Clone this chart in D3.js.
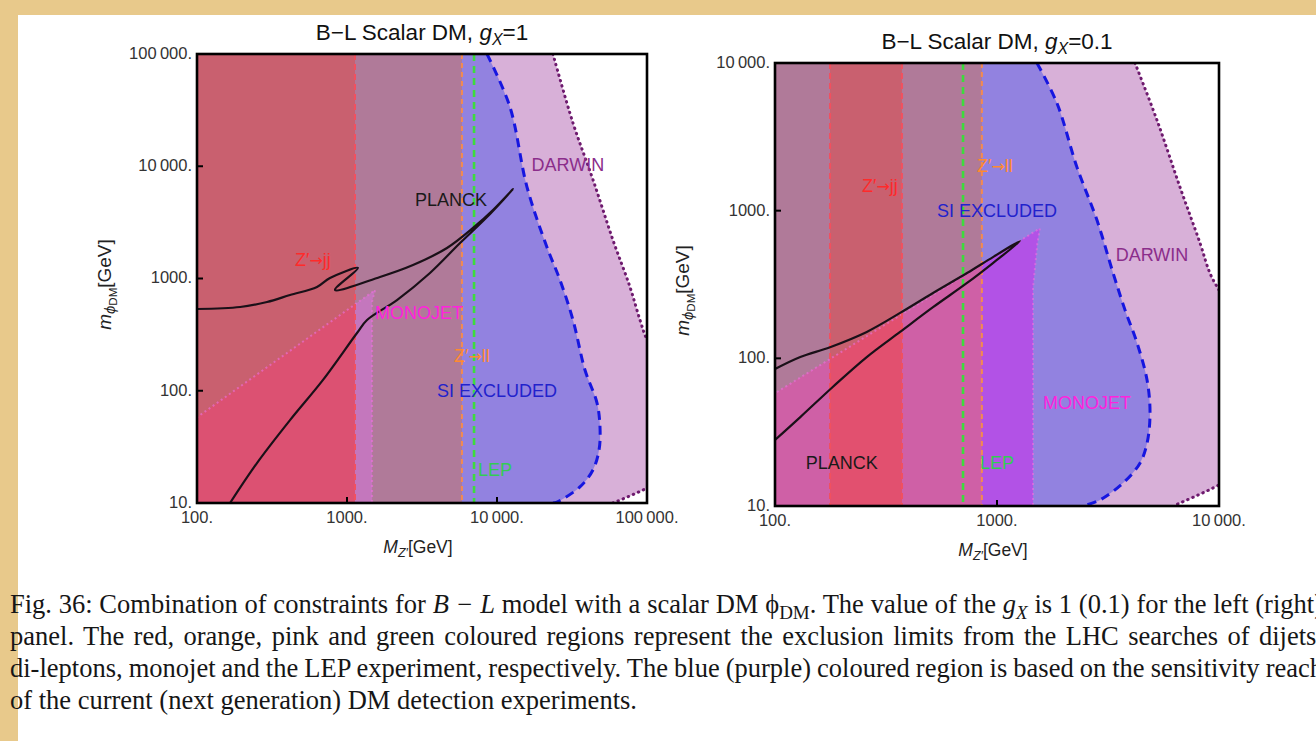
<!DOCTYPE html>
<html>
<head>
<meta charset="utf-8">
<title>B-L Scalar DM constraints</title>
<style>
  body { margin: 0; background: #fff; }
  svg { display: block; }
  text { font-family: "Liberation Sans", Arial, sans-serif; }
  .caption { font-family: "Liberation Serif", "Times New Roman", serif; font-size: 26.5px; fill: #161616; }
  .arrow { font-family: "DejaVu Sans", sans-serif; }
</style>
</head>
<body>
<svg id="fig" width="1316" height="741"></svg>
<script src="https://cdnjs.cloudflare.com/ajax/libs/d3/7.8.5/d3.min.js"></script>
<script>
// ---------- left panel, g_X = 1 ----------
const leftXTicks = [100, 1000, 10000, 100000];
const leftXLabels = ["100.", "1000.", "10\u2009000.", "100\u2009000."];
const leftYTicks = [10, 100, 1000, 10000, 100000];
const leftYLabels = ["10.", "100.", "1000.", "10\u2009000.", "100\u2009000."];
const leftDarwin = [[23600,100000],[32100,24300],[43700,7550],[59300,2200],[77000,840],[89800,427],[100000,283],
                    [150000,100],[160000,30],[130000,17],[100000,13.6],[59300,10]];
const leftSI = [[8580,100000],[12200,33700],[15850,6530],[21500,1910],[26300,970],[32100,427],[38600,153],
                [46400,78],[48600,47.5],[47900,29.7],[43600,19.7],[35700,13.9],[25100,10.2],[23600,10]];
const leftDilepton = [100, 5840];
const leftDijet = [100, 1130];
const leftLEP = 7030;
const leftMonojet = [[100,10],[100,58],[1540,790],[1470,620],[1470,10]];
const leftMonojetBands = [[100,1130,"#dc5172"],[1130,1600,"#c477bd"]];
const leftPlanck = [[100,535],[194,557],[293,618],[417,713],[631,840],[770,1010],[1184,1240],[832,790],
                    [1660,1031],[2754,1318],[4640,1870],[6920,2820],[9400,4075],[12800,6270],
                    [8580,3530],[5670,2070],[3575,1120],[2154,643],[1360,427],[1166,327],[692,125],
                    [417,54.8],[251,22.7],[166,10]];
const leftText = [
  {t:"DARWIN", x:29700, y:10260, c:"#8b2d8b"},
  {t:"PLANCK", x:4935, y:5000, c:"#1a1a1a"},
  {t:"Z\u2032\u2192jj", x:593, y:1462, c:"#ff2a2a"},
  {t:"MONOJET", x:3020, y:493, c:"#ff22dd"},
  {t:"Z\u2032\u2192ll", x:6810, y:204, c:"#ff8a30"},
  {t:"SI EXCLUDED", x:10000, y:99.5, c:"#2222cc"},
  {t:"LEP", x:9700, y:19.7, c:"#33cc55"}
];

// ---------- right panel, g_X = 0.1 ----------
const rightXTicks = [100, 1000, 10000];
const rightXLabels = ["100.", "1000.", "10\u2009000."];
const rightYTicks = [10, 100, 1000, 10000];
const rightYLabels = ["10.", "100.", "1000.", "10\u2009000."];
const rightDarwin = [[4185,10000],[5255,4105],[6670,1445],[8210,604],[9100,378],[10000,290],[13000,150],
                     [14500,40],[13000,18],[10000,13.9],[6210,10]];
const rightSI = [[1514,10000],[1862,5350],[2291,1972],[2820,863],[3334,378],[3775,212],[4275,127],[4744,71],
                 [4890,42.6],[4744,26.7],[4405,19.5],[3695,14.3],[2910,11],[2440,10]];
const rightDilepton = [100, 855];
const rightDijet = [177, 373];
const rightLEP = 703;
const rightMonojet = [[100,10],[100,58],[1560,760],[1520,600],[1453,300],[1453,10]];
const rightMonojetBands = [[100,177,"#cf60a6"],[177,373,"#e2506f"],[373,855,"#cf60a6"],[855,2000,"#b252e6"]];
const rightPlanck = [[100,84.6],[130,102],[177,119],[259,151],[366,203],[515,277],[733,378],[959,485],[1270,623],
                     [959,442],[733,324],[515,222],[366,151],[259,102],[182,64],[130,40],[100,28]];
const rightText = [
  {t:"Z\u2032\u2192jj", x:297, y:1468, c:"#ff2a2a"},
  {t:"Z\u2032\u2192ll", x:979, y:2005, c:"#ff8a30"},
  {t:"SI EXCLUDED", x:1000, y:994, c:"#2222cc"},
  {t:"DARWIN", x:4990, y:500, c:"#8b2d8b"},
  {t:"MONOJET", x:2543, y:49.8, c:"#ff22dd"},
  {t:"PLANCK", x:200, y:19.5, c:"#1a1a1a"},
  {t:"LEP", x:1000, y:19.5, c:"#33cc55"}
];

// ---------- caption ----------
const captionLines = [
  [["Fig. 36: Combination of constraints for ",""],["B \u2212 L","i"],[" model with a scalar DM ",""],["\u03d5",""],["DM","sub"],
   [". The value of the ",""],["g","i"],["X","isub"],[" is 1 (0.1) for the left (right)",""]],
  [["panel. The red, orange, pink and green coloured regions represent the exclusion limits from the LHC searches of dijets,",""]],
  [["di-leptons, monojet and the LEP experiment, respectively. The blue (purple) coloured region is based on the sensitivity reach",""]],
  [["of the current (next generation) DM detection experiments.",""]]
];

const panels = [
  {gx:"1", xDomain:[100,100000], yDomain:[10,100000], box:{left:197,right:647,top:54,bottom:503}, titleY:40,
   xTicks:leftXTicks, xLabels:leftXLabels, yTicks:leftYTicks, yLabels:leftYLabels,
   darwin:leftDarwin, si:leftSI, dilepton:leftDilepton, dijet:leftDijet, lep:leftLEP,
   monojet:leftMonojet, bands:leftMonojetBands, planck:leftPlanck, labels:leftText},
  {gx:"0.1", xDomain:[100,10000], yDomain:[10,10000], box:{left:775,right:1219,top:63,bottom:506}, titleY:49,
   xTicks:rightXTicks, xLabels:rightXLabels, yTicks:rightYTicks, yLabels:rightYLabels,
   darwin:rightDarwin, si:rightSI, dilepton:rightDilepton, dijet:rightDijet, lep:rightLEP,
   monojet:rightMonojet, bands:rightMonojetBands, planck:rightPlanck, labels:rightText}
];

const svg = d3.select("#fig");
const defs = svg.append("defs");
svg.append("rect").attr("width", 1316).attr("height", 741).attr("fill", "#fff");
// tan page edge
svg.append("rect").attr("width", 1316).attr("height", 15).attr("fill", "#e8c98b");
svg.append("rect").attr("width", 18).attr("height", 741).attr("fill", "#e8c98b");

function drawPanel(p, i) {
  const b = p.box;
  const x = d3.scaleLog().domain(p.xDomain).range([b.left, b.right]);
  const y = d3.scaleLog().domain(p.yDomain).range([b.bottom, b.top]);
  const [x0, x1] = p.xDomain, [y0, y1] = p.yDomain;
  const curve = d3.line().x(d => x(d[0])).y(d => y(d[1])).curve(d3.curveCatmullRom.alpha(0.5));
  const straight = d3.line().x(d => x(d[0])).y(d => y(d[1]));

  const clipId = "plotclip" + i;
  defs.append("clipPath").attr("id", clipId).append("rect")
    .attr("x", b.left).attr("y", b.top).attr("width", b.right - b.left).attr("height", b.bottom - b.top);
  const plot = svg.append("g").attr("clip-path", `url(#${clipId})`);

  // area to the left of a boundary, closed via points outside the frame
  function leftOf(pts) {
    const first = pts[0], last = pts[pts.length - 1];
    return curve(pts) + straight([[last[0], y0/3],[x0/3, y0/3],[x0/3, y1*3],[first[0], y1*3]]).replace("M", "L") + "Z";
  }

  plot.append("path").attr("d", leftOf(p.darwin)).attr("fill", "#d8b0d8");
  plot.append("path").attr("d", leftOf(p.si)).attr("fill", "#9282e0");
  plot.append("rect").attr("x", x(p.dilepton[0])).attr("width", x(p.dilepton[1]) - x(p.dilepton[0]))
    .attr("y", b.top).attr("height", b.bottom - b.top).attr("fill", "#b07a99");
  plot.append("rect").attr("x", x(p.dijet[0])).attr("width", x(p.dijet[1]) - x(p.dijet[0]))
    .attr("y", b.top).attr("height", b.bottom - b.top).attr("fill", "#c9606f");

  p.bands.forEach((band, k) => {
    const id = `mono${i}_${k}`;
    defs.append("clipPath").attr("id", id).append("rect")
      .attr("x", x(band[0])).attr("width", x(band[1]) - x(band[0])).attr("y", b.top).attr("height", b.bottom - b.top);
    plot.append("path").attr("clip-path", `url(#${id})`).attr("d", straight(p.monojet) + "Z").attr("fill", band[2]);
  });
  plot.append("path").attr("d", straight(p.monojet) + "Z").attr("fill", "none")
    .attr("stroke", "#f070e0").attr("stroke-width", 2).attr("stroke-dasharray", "2,3").attr("opacity", 0.6);

  // vertical limits
  const vline = (v, color, dash, w) => plot.append("line").attr("x1", x(v)).attr("x2", x(v))
    .attr("y1", b.top).attr("y2", b.bottom).attr("stroke", color).attr("stroke-width", w).attr("stroke-dasharray", dash);
  p.dijet.filter(v => v > x0).forEach(v => vline(v, "#f2505e", "6,4", 2));
  vline(p.dilepton[1], "#f28a52", "5,4", 2);
  vline(p.lep, "#3ddc3d", "7,5", 2.6);

  plot.append("path").attr("d", curve(p.si)).attr("fill", "none")
    .attr("stroke", "#1616e0").attr("stroke-width", 3).attr("stroke-dasharray", "9,6");
  plot.append("path").attr("d", curve(p.darwin)).attr("fill", "none")
    .attr("stroke", "#6e1a6e").attr("stroke-width", 3).attr("stroke-linecap", "round").attr("stroke-dasharray", "0.5,5");
  plot.append("path").attr("d", curve(p.planck)).attr("fill", "none")
    .attr("stroke", "#1a1018").attr("stroke-width", 2.2).attr("stroke-linejoin", "round");

  const labs = plot.selectAll(".lab").data(p.labels).join("text")
    .attr("x", d => x(d.x)).attr("y", d => y(d.y)).attr("dy", "0.35em")
    .attr("text-anchor", "middle").attr("font-size", 18).attr("fill", d => d.c);
  labs.each(function(d) {
    const parts = d.t.split("\u2192");
    const el = d3.select(this);
    el.append("tspan").text(parts[0]);
    if (parts.length > 1) {
      el.append("tspan").attr("class", "arrow").attr("font-size", 16).text("\u2192");
      el.append("tspan").text(parts[1]);
    }
  });

  // frame and ticks
  svg.append("g").selectAll("line").data(p.yTicks).join("line")
    .attr("x1", b.left).attr("x2", b.left + 6).attr("y1", d => y(d)).attr("y2", d => y(d))
    .attr("stroke", "#000").attr("stroke-width", 2);
  svg.append("g").selectAll("line").data(p.xTicks).join("line")
    .attr("y1", b.bottom).attr("y2", b.bottom - 6).attr("x1", d => x(d)).attr("x2", d => x(d))
    .attr("stroke", "#000").attr("stroke-width", 2);
  svg.append("rect").attr("x", b.left).attr("y", b.top).attr("width", b.right - b.left).attr("height", b.bottom - b.top)
    .attr("fill", "none").attr("stroke", "#000").attr("stroke-width", 2.6);

  svg.append("g").selectAll("text").data(p.yTicks).join("text")
    .attr("x", b.left - 5).attr("y", d => y(d)).attr("dy", "0.3em").attr("text-anchor", "end")
    .attr("font-size", 16.5).attr("fill", "#333").text((d, k) => p.yLabels[k]);
  svg.append("g").selectAll("text").data(p.xTicks).join("text")
    .attr("x", d => x(d)).attr("y", b.bottom + 20).attr("text-anchor", "middle")
    .attr("font-size", 16.5).attr("fill", "#333").text((d, k) => p.xLabels[k]);

  // title
  const cx = (b.left + b.right) / 2;
  const title = svg.append("text").attr("x", cx).attr("y", p.titleY).attr("text-anchor", "middle")
    .attr("font-size", 22.5).attr("fill", "#111");
  title.append("tspan").text("B\u2212L Scalar DM, ");
  title.append("tspan").attr("font-style", "italic").text("g");
  title.append("tspan").attr("font-style", "italic").attr("font-size", 16).attr("dy", 5).text("X");
  title.append("tspan").attr("dy", -5).text("=" + p.gx);

  // axis labels
  const xl = svg.append("text").attr("x", cx - 4).attr("y", b.bottom + 50).attr("text-anchor", "middle")
    .attr("font-size", 17.5).attr("fill", "#222");
  xl.append("tspan").attr("font-style", "italic").text("M");
  xl.append("tspan").attr("font-style", "italic").attr("font-size", 12.5).attr("dy", 4).text("Z\u2032");
  xl.append("tspan").attr("dy", -4).text("[GeV]");

  const yl = svg.append("text").attr("transform", `translate(${b.left - 86},${(b.top + b.bottom) / 2 + 6}) rotate(-90)`)
    .attr("text-anchor", "middle").attr("font-size", 19).attr("fill", "#222");
  yl.append("tspan").attr("font-style", "italic").text("m");
  yl.append("tspan").attr("font-style", "italic").attr("font-size", 15).attr("dy", 4).text("\u03d5");
  yl.append("tspan").attr("font-size", 11.5).attr("dy", 2).text("DM");
  yl.append("tspan").attr("dy", -6).text("[GeV]");
}

panels.forEach(drawPanel);

// caption, justified lines
captionLines.forEach((segs, li) => {
  const t = svg.append("text").attr("class", "caption").attr("x", 10).attr("y", 613 + li * 32);
  let shift = 0;
  segs.forEach(([s, st]) => {
    const sub = st === "sub" || st === "isub";
    const want = sub ? 6 : 0;
    const ts = t.append("tspan").text(s).attr("dy", want - shift);
    shift = want;
    if (st === "i" || st === "isub") ts.attr("font-style", "italic");
    if (sub) ts.attr("font-size", 19);
  });
  if (li < captionLines.length - 1) {
    const full = segs.map(s => s[0]).join("");
    const spaces = (full.match(/ /g) || []).length;
    const w = t.node().getComputedTextLength();
    t.style("word-spacing", ((1313 - w) / spaces) + "px");
  }
});
</script>
</body>
</html>
